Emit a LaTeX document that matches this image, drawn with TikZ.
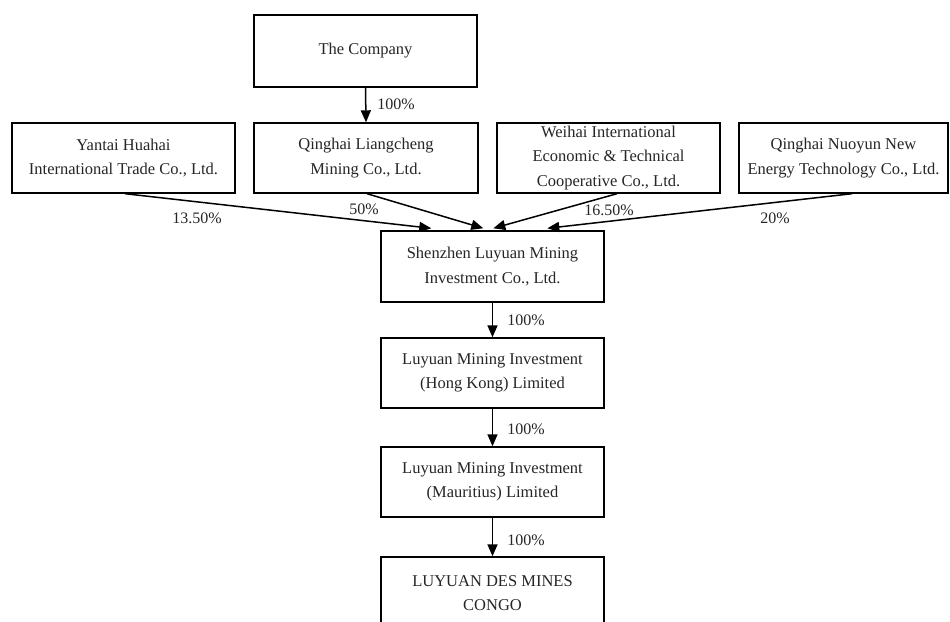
\documentclass[tikz,border=0pt]{standalone}
\usepackage{fontspec}
\setmainfont{Liberation Serif}
\usetikzlibrary{arrows.meta,calc}
\begin{document}
\begin{tikzpicture}[x=1pt,y=-1pt,
  box/.style={draw,line width=1.4pt,inner sep=0pt,align=center,
    font=\fontsize{16.5}{24.5}\selectfont,text=black!85},
  arr/.style={line width=1.5pt,-{Triangle[length=12pt,width=10pt]}},
  pct/.style={font=\fontsize{16}{18}\selectfont,text=black!85}]
\clip (0,0) rectangle (950,621);
\fill[white] (0,0) rectangle (950,621);
\node[box,minimum width=223pt,minimum height=72pt] (comp) at (365.5,51) {The Company};
\node[box,minimum width=223pt,minimum height=70pt] (yant) at (123.5,158) {Yantai Huahai\\International Trade Co., Ltd.};
\node[box,minimum width=224pt,minimum height=70pt] (qlc) at (366,158) {Qinghai Liangcheng\\Mining Co., Ltd.};
\node[box,minimum width=223pt,minimum height=70pt] (weih) at (608.5,158) {Weihai International\\Economic \& Technical\\Cooperative Co., Ltd.};
\node[box,minimum width=209pt,minimum height=70pt] (nuoy) at (843.5,158) {Qinghai Nuoyun New\\Energy Technology Co., Ltd.};
\node[box,minimum width=223pt,minimum height=71pt] (shen) at (492.5,266.5) {Shenzhen Luyuan Mining\\Investment Co., Ltd.};
\node[box,minimum width=223pt,minimum height=70pt] (hk) at (492.5,373) {Luyuan Mining Investment\\(Hong Kong) Limited};
\node[box,minimum width=223pt,minimum height=70pt] (maur) at (492.5,482) {Luyuan Mining Investment\\(Mauritius) Limited};
\node[box,minimum width=223pt,minimum height=72pt] (congo) at (492.5,593) {LUYUAN DES MINES\\CONGO};
\coordinate (t1) at ($(shen.north west)+(51,-2)$);
\coordinate (t2) at ($(shen.north west)+(103,-2)$);
\coordinate (t3) at ($(shen.north west)+(113,-2)$);
\coordinate (t4) at ($(shen.north west)+(167,-2)$);
\draw[arr] (comp.south) -- (qlc.north);
\node[pct] (p0) at (396,104) {100\%};
\draw[arr] ($(yant.south)+(1.5,0)$) -- (t1);
\draw[arr] ($(qlc.south)+(1,0)$) -- (t2);
\draw[arr] ($(weih.south)+(8.5,0)$) -- (t3);
\draw[arr] ($(nuoy.south)+(8.5,0)$) -- (t4);
\node[pct] (p1) at (197,218) {13.50\%};
\node[pct] (p2) at (364,209) {50\%};
\node[pct] (p3) at (609,210) {16.50\%};
\node[pct] (p4) at (775,218) {20\%};
\draw[arr] (shen.south) -- (hk.north);
\node[pct] (p5) at (526,320) {100\%};
\draw[arr] (hk.south) -- (maur.north);
\node[pct] (p6) at (526,429) {100\%};
\draw[arr] (maur.south) -- (congo.north);
\node[pct] (p7) at (526,540) {100\%};
\end{tikzpicture}
\end{document}
